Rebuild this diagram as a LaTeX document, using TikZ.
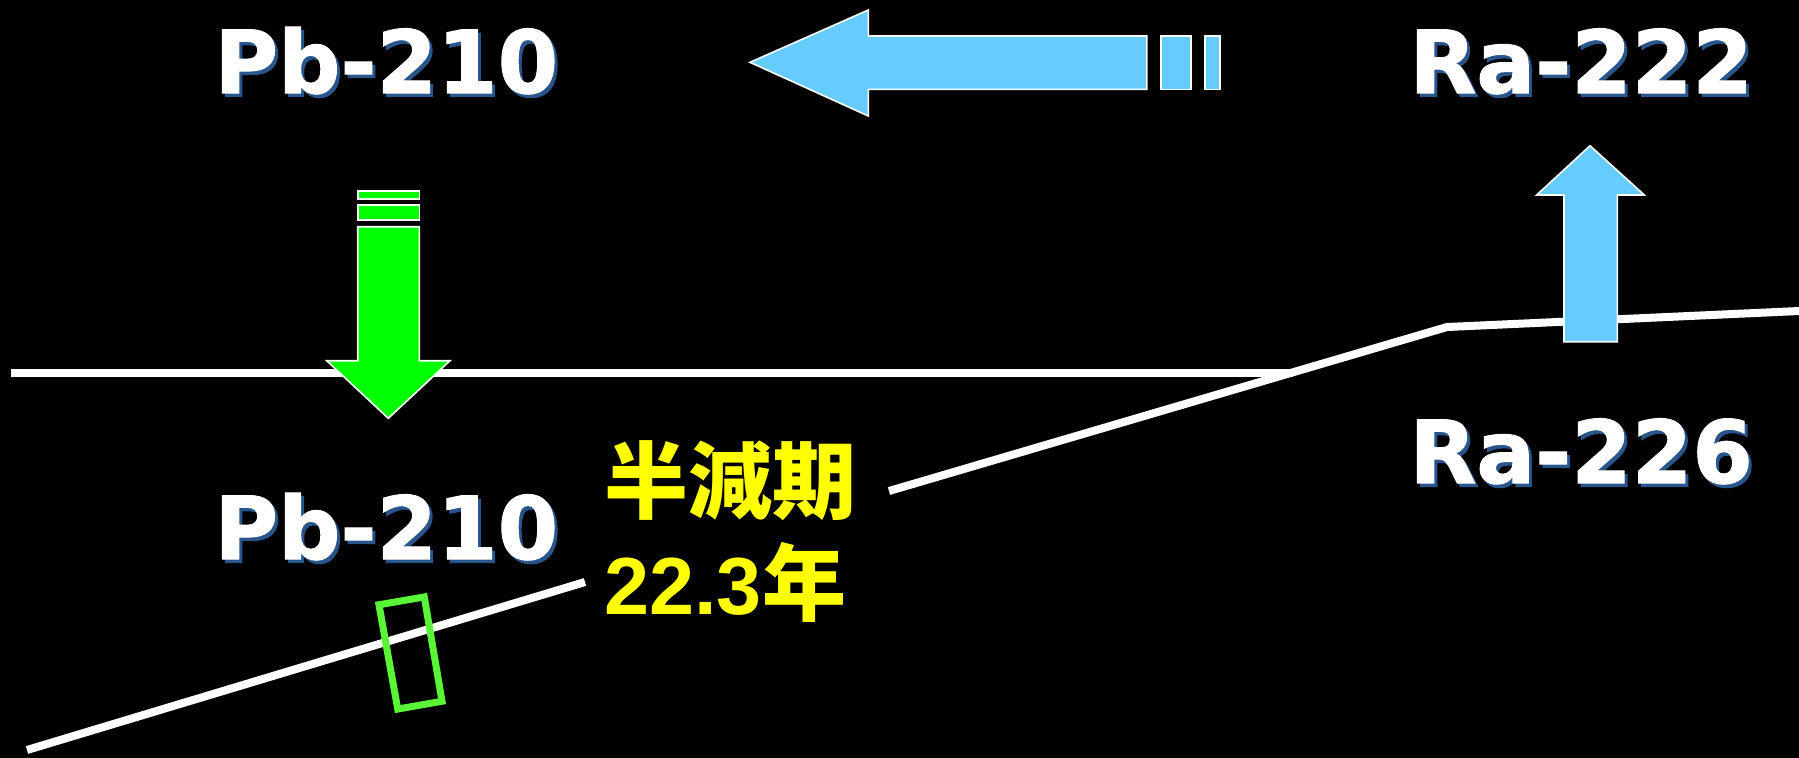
\documentclass[tikz,border=0pt]{standalone}
\usepackage{fontspec}
\setmainfont{DejaVu Sans}
\newfontfamily\isofont{DejaVu Sans Bold}[FakeBold=1.2]
\newfontfamily\cjk{Noto Sans CJK JP}
\newfontfamily\digits{Liberation Sans}
\definecolor{skyb}{RGB}{102,204,255}
\definecolor{grn}{RGB}{0,255,0}
\definecolor{lgrn}{RGB}{90,245,55}
\definecolor{shad}{RGB}{40,85,140}
\definecolor{yel}{RGB}{255,255,0}
\newcommand{\shadowed}[1]{\makebox[0pt][l]{\hspace{1.5pt}\raisebox{-1.75pt}{\textcolor{shad}{#1}}}#1}
\begin{document}
\begin{tikzpicture}[x=0.5pt,y=-0.5pt,
  iso/.style={font=\isofont\fontsize{43.5}{43.5}\selectfont, text=white, anchor=base west, inner sep=0},
  jp/.style={font=\cjk\bfseries\fontsize{42}{42}\selectfont, text=yel, anchor=base west, inner sep=0},
  wline/.style={white, line width=4pt},
  barrow/.style={fill=skyb, draw=white, line width=0.8pt},
  garrow/.style={fill=grn, draw=white, line width=0.8pt},
  gbox/.style={draw=lgrn, line width=3.5pt}]
\useasboundingbox (0,0) rectangle (1799,757);
\fill[black] (-10,-10) rectangle (1809,767);
% lines
\draw[wline] (11,372.5) -- (1293,372.5);
\draw[wline] (27,750) -- (585,582);
\draw[wline, line join=miter] (889,491) -- (1447,327) -- (1810,310.5);
% green down arrow
\draw[garrow] (357.7,190.7) rectangle (419.3,198.7);
\draw[garrow] (357.7,204.7) rectangle (419.3,220);
\draw[garrow] (357.7,226.7) -- (419.3,226.7) -- (419.3,360.7) -- (450,360.7) -- (388.3,418.3) -- (326.7,360.7) -- (357.7,360.7) -- cycle;
% blue left arrow
\draw[barrow] (750,62.3) -- (868.3,10) -- (868.3,36) -- (1146.7,36) -- (1146.7,89.3) -- (868.3,89.3) -- (868.3,116) -- cycle;
\draw[barrow] (1161,36) rectangle (1191,89.3);
\draw[barrow] (1205,36) rectangle (1220,89.3);
% blue up arrow
\draw[barrow] (1590,145.7) -- (1644.3,195) -- (1617.3,195) -- (1617.3,341.7) -- (1564,341.7) -- (1564,195) -- (1536.7,195) -- cycle;
% green tilted box
\draw[gbox] (378.97,604.76) -- (424.27,596.94) -- (442.03,701.24) -- (397.73,709.06) -- cycle;
% labels
\node[iso] (pbtop) at (214,93) {\shadowed{Pb-210}};
\node[iso] (pbbot) at (214,559) {\shadowed{Pb-210}};
\node[iso] (ra222) at (1409,93) {\shadowed{Ra-222}};
\node[iso] (ra226) at (1409,483) {\shadowed{Ra-226}};
\node[jp] (hl1) at (604,512) {半減期};
\node[jp] (hl2) at (604,614) {{\digits\bfseries\fontsize{40.5}{40.5}\selectfont 22.3}年};
\end{tikzpicture}
\end{document}
